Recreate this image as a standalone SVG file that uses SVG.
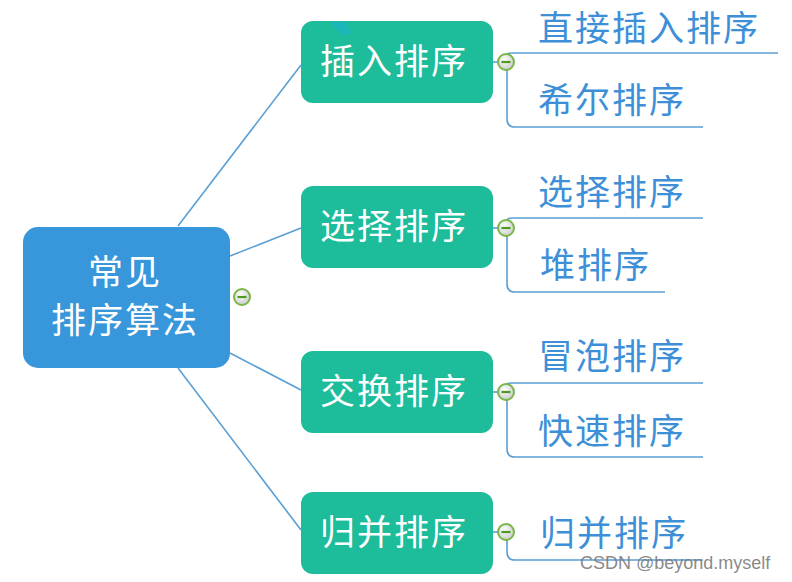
<svg xmlns="http://www.w3.org/2000/svg" width="792" height="582" viewBox="0 0 792 582">
<defs>
<radialGradient id="cg" cx="0.4" cy="0.35" r="0.7">
<stop offset="0" stop-color="#ffffff"/>
<stop offset="1" stop-color="#c9c9c9"/>
</radialGradient>
<g id="col">
<circle r="8" fill="url(#cg)" stroke="#7ab648" stroke-width="2"/>
<line x1="-4.5" y1="0" x2="4.5" y2="0" stroke="#4f9a1e" stroke-width="2.2"/>
</g>
</defs>
<style>
.root{fill:#3897da}
.topic{fill:#1dbc9a}
.wt{fill:#ffffff;font-family:"Noto Sans CJK SC","Microsoft YaHei",sans-serif;font-size:35px;letter-spacing:2px}
.bt{fill:#3d8fd8;font-family:"Noto Sans CJK SC","Microsoft YaHei",sans-serif;font-size:35px;letter-spacing:2px}
.ln{fill:none;stroke:#5a9fd4;stroke-width:1.6}
</style>
<rect width="792" height="582" fill="#ffffff"/>
<g id="connectors">
<path class="ln" d="M178 226 L301 65"/>
<path class="ln" d="M230 256 L301 228"/>
<path class="ln" d="M230 353 L301 390"/>
<path class="ln" d="M178 368 L301 530"/>
<path class="ln" d="M493 62 L498 62"/>
<path class="ln" d="M493 228 L498 228"/>
<path class="ln" d="M493 392 L498 392"/>
<path class="ln" d="M493 532 L498 532"/>
<path class="ln" d="M507 55 Q507 53 512 53 L778 53"/>
<path class="ln" d="M507 70 L507 119 Q507 127 515 127 L703 127"/>
<path class="ln" d="M507 221 Q507 218 512 218 L703 218"/>
<path class="ln" d="M507 236 L507 284 Q507 292 515 292 L665 292"/>
<path class="ln" d="M507 385 Q507 383 512 383 L703 383"/>
<path class="ln" d="M507 400 L507 449 Q507 457 515 457 L703 457"/>
<path class="ln" d="M507 540 L507 552 Q507 560 515 560 L703 560"/>
</g>
<g id="root">
<rect class="root" x="23" y="227" width="207" height="141" rx="15"/>
<text class="wt" x="125" y="285" text-anchor="middle">常见</text>
<text class="wt" x="125" y="333" text-anchor="middle">排序算法</text>
<use href="#col" x="242" y="297"/>
</g>
<g id="t1">
<rect class="topic" x="301" y="21" width="192" height="82" rx="12"/>
<polygon points="330,22 346,22 351,33 343,36" fill="#19b5c0" opacity="0.8"/>
<text class="wt" x="320" y="74">插入排序</text>
<use href="#col" x="506" y="62"/>
</g>
<g id="t2">
<rect class="topic" x="301" y="186" width="192" height="82" rx="12"/>
<text class="wt" x="320" y="239">选择排序</text>
<use href="#col" x="506" y="228"/>
</g>
<g id="t3">
<rect class="topic" x="301" y="351" width="192" height="82" rx="12"/>
<text class="wt" x="320" y="404">交换排序</text>
<use href="#col" x="506" y="392"/>
</g>
<g id="t4">
<rect class="topic" x="301" y="492" width="192" height="82" rx="12"/>
<text class="wt" x="320" y="545">归并排序</text>
<use href="#col" x="506" y="532"/>
</g>
<g id="c1"><text class="bt" x="538" y="41">直接插入排序</text></g>
<g id="c2"><text class="bt" x="538" y="113">希尔排序</text></g>
<g id="c3"><text class="bt" x="538" y="205">选择排序</text></g>
<g id="c4"><text class="bt" x="540" y="278">堆排序</text></g>
<g id="c5"><text class="bt" x="538" y="369">冒泡排序</text></g>
<g id="c6"><text class="bt" x="538" y="444">快速排序</text></g>
<g id="c7"><text class="bt" x="540" y="546">归并排序</text></g>
<text x="580" y="569" font-family="Liberation Sans, Arial, sans-serif" font-size="18" fill="#7a7a7a" fill-opacity="0.9">CSDN @beyond.myself</text>
</svg>
